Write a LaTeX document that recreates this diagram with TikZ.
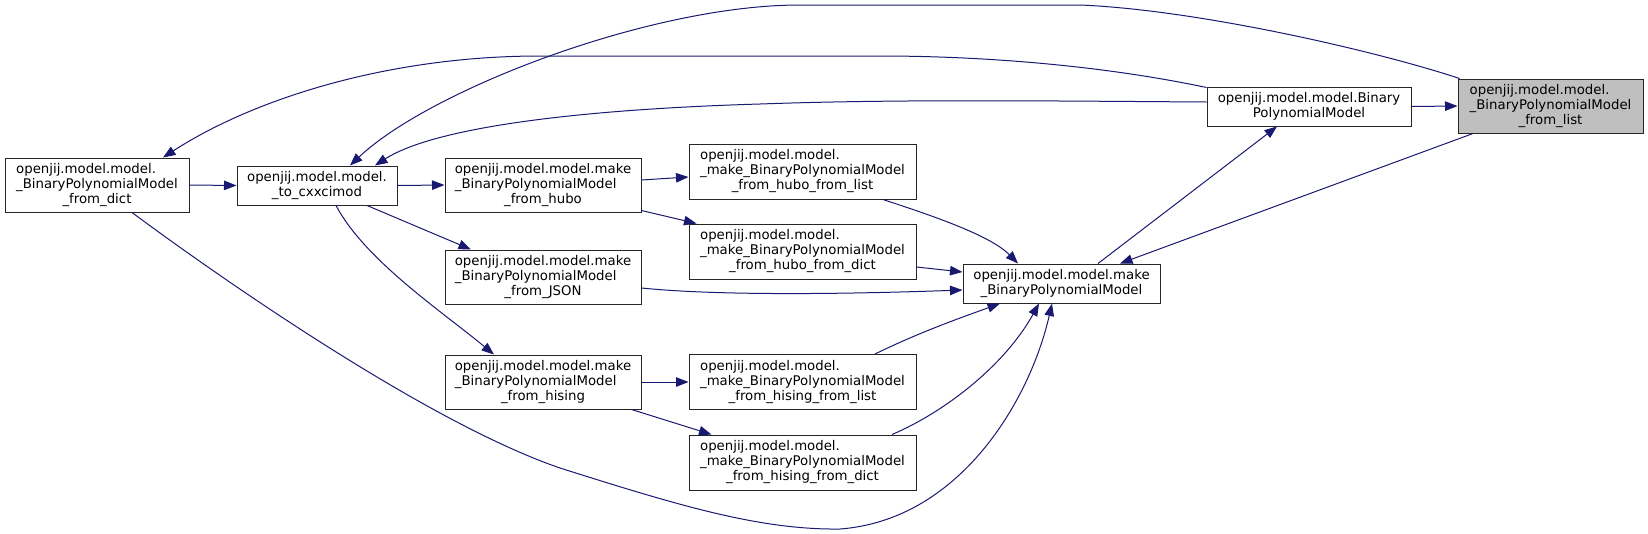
\documentclass[tikz,border=0pt]{standalone}
\usepackage{fontspec}
\setmainfont{DejaVu Sans}
\usetikzlibrary{arrows.meta}
\definecolor{edgec}{HTML}{191970}
\definecolor{graybox}{HTML}{BFBFBF}
\newcommand\tlab[3]{\begin{tabular}{@{}l@{}}#1\\#2\\\multicolumn{1}{@{}c@{}}{#3}\end{tabular}}
\newcommand\dlab[2]{\begin{tabular}{@{}l@{}}#1\\\multicolumn{1}{@{}c@{}}{#2}\end{tabular}}
\begin{document}
\begin{tikzpicture}[x=1pt,y=-1pt,
  box/.style={draw=black!85, line width=1pt, fill=white, inner sep=0pt, font=\fontsize{13.3}{15}\selectfont},
  e/.style={draw=edgec, line width=1pt, -{Triangle[length=12.5pt,width=9.5pt]}}]
\useasboundingbox (0,0) rectangle (1648,533);
% nodes
\node[box, minimum width=184pt, minimum height=54pt] (fd) at (97,185) {\tlab{openjij.model.model.}{\_BinaryPolynomialModel}{\_from\_dict}};
\node[box, minimum width=160pt, minimum height=39pt, align=center] (tc) at (317,185.5) {openjij.model.model.\\\_to\_cxxcimod};
\node[box, minimum width=196pt, minimum height=54pt] (fh) at (543,185) {\tlab{openjij.model.model.make}{\_BinaryPolynomialModel}{\_from\_hubo}};
\node[box, minimum width=196pt, minimum height=54pt] (fj) at (543,277) {\tlab{openjij.model.model.make}{\_BinaryPolynomialModel}{\_from\_JSON}};
\node[box, minimum width=196pt, minimum height=54pt] (fhi) at (543,382) {\tlab{openjij.model.model.make}{\_BinaryPolynomialModel}{\_from\_hising}};
\node[box, minimum width=227pt, minimum height=55pt] (hfl) at (802.5,171.5) {\tlab{openjij.model.model.}{\_make\_BinaryPolynomialModel}{\_from\_hubo\_from\_list}};
\node[box, minimum width=227pt, minimum height=55pt] (hfd) at (802.5,251.5) {\tlab{openjij.model.model.}{\_make\_BinaryPolynomialModel}{\_from\_hubo\_from\_dict}};
\node[box, minimum width=227pt, minimum height=55pt] (hsl) at (802.5,382) {\tlab{openjij.model.model.}{\_make\_BinaryPolynomialModel}{\_from\_hising\_from\_list}};
\node[box, minimum width=227pt, minimum height=55pt] (hsd) at (802.5,462.5) {\tlab{openjij.model.model.}{\_make\_BinaryPolynomialModel}{\_from\_hising\_from\_dict}};
\node[box, minimum width=197pt, minimum height=39pt] (mk) at (1061.5,283.5) {\dlab{openjij.model.model.make}{\_BinaryPolynomialModel}};
\node[box, minimum width=204pt, minimum height=39pt] (bpm) at (1309,106.5) {\dlab{openjij.model.model.Binary}{PolynomialModel}};
\node[box, fill=graybox, minimum width=185pt, minimum height=54pt] (fl) at (1550.5,106) {\tlab{openjij.model.model.}{\_BinaryPolynomialModel}{\_from\_list}};
% edges
\draw[e] (bpm.east) -- (fl.west);
\draw[e] ([xshift=36.5pt]mk.north) -- ([xshift=-32pt]bpm.south);
\draw[e] ([xshift=-77.5pt]fl.south) -- ([xshift=58.5pt]mk.north);
\draw[e] ([xshift=2pt]fl.north west) .. controls (1380,52) and (1200,10) .. (1080,5) -- (800,5) .. controls (650,5) and (430,90) .. ([xshift=33pt]tc.north);
\draw[e] ([yshift=-1pt]bpm.north west) .. controls (1100,65) and (980,56) .. (880,56) -- (540,56) .. controls (390,56) and (255,98) .. ([xshift=66pt]fd.north);
\draw[e] ([yshift=4.5pt]bpm.west) .. controls (1050,101) and (900,99) .. (760,104) .. controls (560,110) and (430,130) .. ([xshift=58pt]tc.north);
\draw[e] (fd.east) -- (tc.west);
\draw[e] (tc.east) -- (fh.west);
\draw[e] ([xshift=50pt]tc.south) -- ([xshift=-72pt]fj.north);
\draw[e] ([xshift=19pt]tc.south) .. controls (365,260) and (440,310) .. ([xshift=-49pt]fhi.north);
\draw[e] ([yshift=5pt]fh.east) -- ([yshift=-5.5pt]hfl.west);
\draw[e] ([yshift=2pt]fh.south east) -- ([xshift=8pt]hfd.north west);
\draw[e] (fhi.east) -- (hsl.west);
\draw[e] ([xshift=-10pt]fhi.south east) -- ([xshift=23pt]hsd.north west);
\draw[e] ([xshift=80.5pt]hfl.south) .. controls (930,215) and (990,235) .. ([xshift=-43.5pt]mk.north);
\draw[e] ([yshift=-15.5pt]hfd.east) -- ([yshift=11.5pt]mk.west);
\draw[e] ([yshift=-11pt]fj.east) .. controls (720,296) and (850,294) .. ([yshift=-6.5pt]mk.west);
\draw[e] ([xshift=72.5pt]hsl.north) .. controls (920,332) and (960,318) .. ([xshift=-61.5pt]mk.south);
\draw[e] ([xshift=89.5pt]hsd.north) .. controls (945,412) and (1005,365) .. ([xshift=-22.5pt]mk.south);
\draw[e] ([xshift=35pt]fd.south) .. controls (200,263) and (420,420) .. (560,468) .. controls (680,506) and (760,530) .. (840,529) .. controls (960,520) and (1030,400) .. ([xshift=-9.5pt]mk.south);
\end{tikzpicture}
\end{document}
